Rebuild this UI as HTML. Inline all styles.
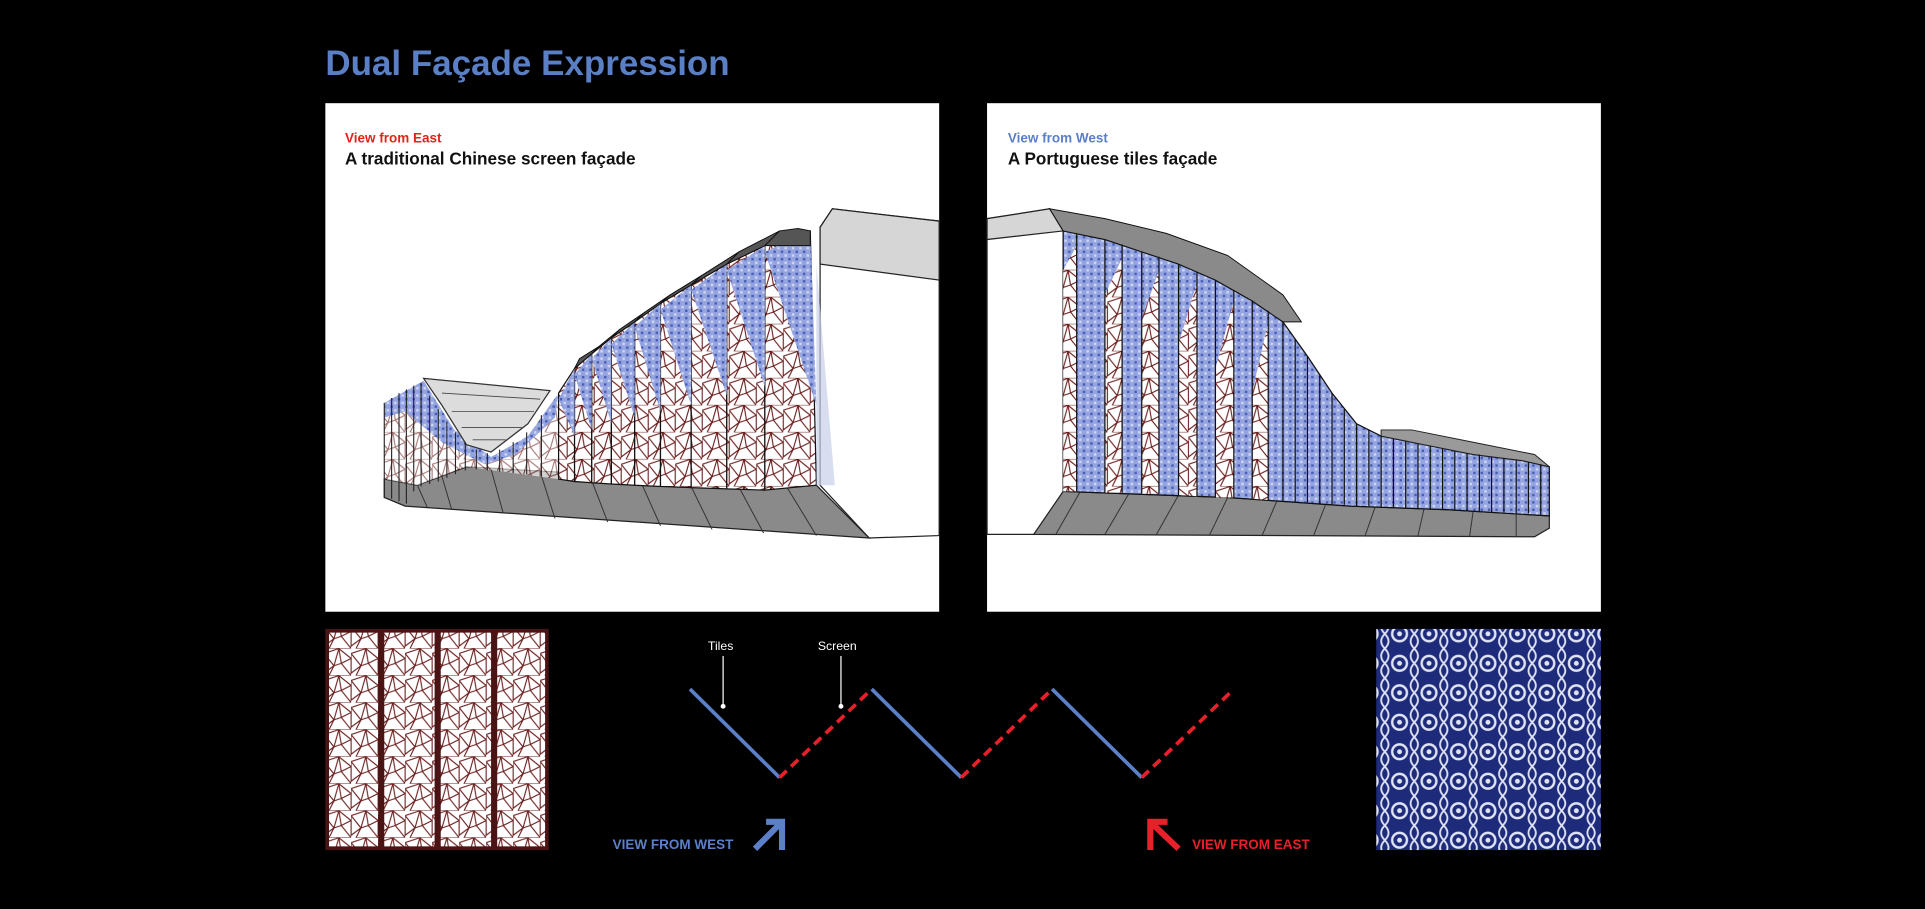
<!DOCTYPE html>
<html><head><meta charset="utf-8"><style>
html,body{margin:0;padding:0;background:#000;}
svg{display:block}
text{font-family:"Liberation Sans",sans-serif}
</style></head><body>
<svg width="1925" height="909" viewBox="0 0 1568 740" preserveAspectRatio="none" xmlns="http://www.w3.org/2000/svg">
<defs>
<pattern id="lat" width="22" height="22" patternUnits="userSpaceOnUse">
<rect width="22" height="22" fill="#fff"/>
<path d="M0 4L12 0L8 14ZM12 0L22 8L14 12ZM8 14L14 12L22 22L4 22ZM0 4L8 14L0 20ZM14 12L22 8L22 22" fill="none" stroke="#6b1f1f" stroke-width="0.9"/>
</pattern>
<pattern id="blu" width="6" height="6" patternUnits="userSpaceOnUse">
<rect width="6" height="6" fill="#94a4e0"/>
<rect x="0" y="0" width="2" height="2" fill="#4c5eb4"/><rect x="3" y="3" width="2" height="2" fill="#d0d7f2"/>
</pattern>
<pattern id="tile" width="24" height="24" patternUnits="userSpaceOnUse">
<rect width="24" height="24" fill="#1e2a7a"/>
<circle cx="12" cy="12" r="6" fill="none" stroke="#dfe4f5" stroke-width="2"/>
<circle cx="12" cy="12" r="2" fill="#dfe4f5"/>
<path d="M0 0Q6 6 0 12M24 0Q18 6 24 12M0 24Q6 18 0 12M24 24Q18 18 24 12" fill="none" stroke="#dfe4f5" stroke-width="1.5"/>
</pattern>
</defs>
<rect width="1568" height="740" fill="#000"/>
<text x="265" y="61" font-size="28.5" font-weight="bold" fill="#5b7fc4">Dual Façade Expression</text>

<!-- Left panel -->
<rect x="265" y="84" width="500" height="414" fill="#fff"/>
<text x="281" y="116" font-size="11" font-weight="bold" fill="#e2231a">View from East</text>
<text x="281" y="134" font-size="14" font-weight="bold" fill="#111">A traditional Chinese screen façade</text>
<polygon points="668,185 678,170 765,180 765,436 708,438 668,395" fill="#fff" stroke="#222" stroke-width="1"/>
<polygon points="668,185 678,170 765,180 765,228 668,215" fill="#d6d6d6" stroke="#222" stroke-width="1"/>
<polygon points="313,390 340,395 380,380 640,395 665,395 708,438 330,412 313,405" fill="#8a8a8a" stroke="#222" stroke-width="1"/>
<g stroke="#333" stroke-width="0.8">
<line x1="400" y1="382" x2="410" y2="418"/><line x1="440" y1="384" x2="452" y2="422"/><line x1="480" y1="386" x2="495" y2="425"/><line x1="520" y1="388" x2="538" y2="428"/><line x1="560" y1="390" x2="580" y2="431"/><line x1="600" y1="393" x2="622" y2="434"/><line x1="640" y1="395" x2="665" y2="436"/><line x1="340" y1="395" x2="348" y2="413"/><line x1="360" y1="388" x2="368" y2="415"/>
</g>
<polygon points="313,328 345,310 370,350 400,372 430,355 455,320 455,390 380,380 340,395 313,390" fill="url(#lat)" opacity="0.6"/>
<polygon points="313,328 345,310 370,350 400,372 430,355 455,320 452,340 420,370 395,378 360,360 330,335 313,340" fill="url(#blu)"/>
<polygon points="345,308 448,318 430,345 400,368 380,362 360,330" fill="#dcdcdc" stroke="#333" stroke-width="1"/>
<g stroke="#444" stroke-width="0.7">
<line x1="360" y1="320" x2="440" y2="325"/><line x1="368" y1="335" x2="435" y2="335"/><line x1="376" y1="348" x2="425" y2="348"/><line x1="385" y1="358" x2="412" y2="358"/>
</g>
<g stroke="#222" stroke-width="0.9">
<line x1="313" y1="328" x2="313" y2="405"/><line x1="319" y1="324" x2="319" y2="406"/><line x1="325" y1="320" x2="325" y2="408"/><line x1="331" y1="317" x2="331" y2="410"/><line x1="337" y1="314" x2="337" y2="400"/><line x1="343" y1="312" x2="343" y2="396"/><line x1="350" y1="322" x2="350" y2="394"/><line x1="357" y1="333" x2="357" y2="392"/><line x1="364" y1="343" x2="364" y2="389"/><line x1="371" y1="352" x2="371" y2="386"/><line x1="379" y1="360" x2="379" y2="383"/><line x1="388" y1="366" x2="388" y2="382"/><line x1="397" y1="369" x2="397" y2="383"/><line x1="407" y1="366" x2="407" y2="384"/><line x1="418" y1="360" x2="418" y2="385"/><line x1="429" y1="352" x2="429" y2="386"/><line x1="441" y1="338" x2="441" y2="388"/>
</g>
<g stroke="#111" stroke-width="1">
<polygon points="455,320 468,300 468,392 455,390" fill="url(#lat)"/>
<polygon points="468,300 482,288 482,393 468,392" fill="url(#lat)"/>
<polygon points="482,288 498,275 498,394 482,393" fill="url(#lat)"/>
<polygon points="498,275 517,262 517,395 498,394" fill="url(#lat)"/>
<polygon points="517,262 538,247 538,396 517,395" fill="url(#lat)"/>
<polygon points="538,247 563,232 563,397 538,396" fill="url(#lat)"/>
<polygon points="563,232 592,215 592,398 563,397" fill="url(#lat)"/>
<polygon points="592,215 623,200 623,399 592,398" fill="url(#lat)"/>
<polygon points="623,200 660,188 665,395 623,399" fill="url(#lat)"/>
</g>
<g>
<polygon points="455,325 468,300 468,355" fill="url(#blu)"/>
<polygon points="468,305 482,288 482,350" fill="url(#blu)"/>
<polygon points="482,292 498,275 498,345" fill="url(#blu)"/>
<polygon points="498,280 517,262 517,340" fill="url(#blu)"/>
<polygon points="517,266 538,247 538,335" fill="url(#blu)"/>
<polygon points="538,252 563,232 563,330" fill="url(#blu)"/>
<polygon points="563,236 592,215 592,322" fill="url(#blu)"/>
<polygon points="592,220 623,200 623,315" fill="url(#blu)"/>
<polygon points="623,205 660,188 665,330" fill="url(#blu)"/>
</g>
<g fill="#555" stroke="#111" stroke-width="0.8">
<polygon points="468,300 472,292 488,282 482,288"/>
<polygon points="482,288 488,282 505,268 498,275"/>
<polygon points="498,275 505,268 524,255 517,262"/>
<polygon points="517,262 524,255 546,240 538,247"/>
<polygon points="538,247 546,240 572,224 563,232"/>
<polygon points="563,232 572,224 602,205 592,215"/>
<polygon points="592,215 602,205 635,188 623,200"/>
<polygon points="623,200 635,188 650,186 660,188 660,200"/>
</g>
<polygon points="665,215 680,395 665,395" fill="#c8cfe8" opacity="0.7"/>

<!-- Right panel -->
<rect x="804" y="84" width="500" height="414" fill="#fff"/>
<text x="821" y="116" font-size="11" font-weight="bold" fill="#5b7fc4">View from West</text>
<text x="821" y="134" font-size="14" font-weight="bold" fill="#111">A Portuguese tiles façade</text>
<polygon points="804,178 855,170 866,188 866,435 804,435" fill="#fff" stroke="#222" stroke-width="1"/>
<polygon points="804,178 855,170 866,188 804,195" fill="#d6d6d6" stroke="#222" stroke-width="1"/>
<polygon points="866,400 1000,405 1100,412 1180,415 1262,420 1262,430 1250,437 842,435" fill="#8a8a8a" stroke="#222" stroke-width="1"/>
<g stroke="#333" stroke-width="0.8">
<line x1="880" y1="400" x2="860" y2="435"/><line x1="920" y1="401" x2="900" y2="435"/><line x1="960" y1="403" x2="942" y2="435"/><line x1="1000" y1="405" x2="985" y2="436"/><line x1="1040" y1="408" x2="1028" y2="436"/><line x1="1080" y1="410" x2="1070" y2="436"/><line x1="1120" y1="413" x2="1112" y2="436"/><line x1="1160" y1="414" x2="1155" y2="436"/><line x1="1200" y1="416" x2="1197" y2="437"/><line x1="1235" y1="418" x2="1235" y2="437"/>
</g>
<polygon points="866,188 900,195 930,205 960,215 990,228 1020,245 1045,262 1065,290 1085,320 1105,345 1125,355 1160,362 1200,370 1240,375 1262,380 1262,420 1180,415 1100,412 1000,405 866,400" fill="url(#blu)" stroke="#111" stroke-width="1"/>
<g fill="url(#lat)">
<polygon points="866,220 877,200 877,400 866,400"/>
<polygon points="900,240 914,210 914,401 900,401"/>
<polygon points="930,260 944,220 944,402 930,402"/>
<polygon points="960,280 975,230 975,404 960,403"/>
<polygon points="990,300 1005,245 1005,405 990,405"/>
<polygon points="1020,320 1033,262 1033,407 1020,406"/>
</g>
<polygon points="1125,355 1160,362 1200,370 1240,375 1262,380 1250,370 1200,360 1150,350 1125,350" fill="#9a9a9a" stroke="#222" stroke-width="0.8"/>
<polygon points="866,188 855,170 900,178 950,190 1000,208 1045,240 1060,262 1045,262 1020,245 990,228 960,215 930,205 900,195" fill="#8a8a8a" stroke="#111" stroke-width="0.8"/>
<g stroke="#111" stroke-width="1">
<line x1="877" y1="190" x2="877" y2="400"/><line x1="900" y1="195" x2="900" y2="401"/><line x1="914" y1="199" x2="914" y2="401"/><line x1="930" y1="205" x2="930" y2="402"/><line x1="944" y1="209" x2="944" y2="402"/><line x1="960" y1="215" x2="960" y2="403"/><line x1="975" y1="221" x2="975" y2="404"/><line x1="990" y1="228" x2="990" y2="405"/><line x1="1005" y1="236" x2="1005" y2="405"/><line x1="1020" y1="245" x2="1020" y2="406"/><line x1="1033" y1="253" x2="1033" y2="407"/><line x1="1045" y1="262" x2="1045" y2="408"/><line x1="1055" y1="276" x2="1055" y2="409"/><line x1="1065" y1="290" x2="1065" y2="409"/><line x1="1075" y1="305" x2="1075" y2="410"/><line x1="1085" y1="320" x2="1085" y2="411"/><line x1="1095" y1="333" x2="1095" y2="411"/><line x1="1105" y1="345" x2="1105" y2="412"/><line x1="1115" y1="350" x2="1115" y2="412"/><line x1="1125" y1="355" x2="1125" y2="413"/><line x1="1135" y1="357" x2="1135" y2="413"/><line x1="1145" y1="359" x2="1145" y2="414"/><line x1="1155" y1="361" x2="1155" y2="414"/><line x1="1165" y1="363" x2="1165" y2="415"/><line x1="1175" y1="365" x2="1175" y2="415"/><line x1="1185" y1="367" x2="1185" y2="415"/><line x1="1195" y1="369" x2="1195" y2="416"/><line x1="1205" y1="370" x2="1205" y2="416"/><line x1="1215" y1="372" x2="1215" y2="417"/><line x1="1225" y1="373" x2="1225" y2="417"/><line x1="1235" y1="374" x2="1235" y2="418"/><line x1="1245" y1="376" x2="1245" y2="418"/><line x1="1255" y1="378" x2="1255" y2="419"/>
</g>

<rect x="265" y="512" width="182" height="180" fill="#4a1414"/>
<rect x="268" y="515" width="40" height="174" fill="url(#lat)"/>
<rect x="313" y="515" width="41" height="174" fill="url(#lat)"/>
<rect x="359" y="515" width="41" height="174" fill="url(#lat)"/>
<rect x="405" y="515" width="39" height="174" fill="url(#lat)"/>
<rect x="1121" y="512" width="183" height="180" fill="url(#tile)"/>

<g stroke-width="3" fill="none">
<polyline points="562,561 635,633" stroke="#5b80c8"/>
<polyline points="710,561 783,633" stroke="#5b80c8"/>
<polyline points="857,561 930,633" stroke="#5b80c8"/>
<g stroke="#e8202a" stroke-dasharray="8,5">
<line x1="635" y1="633" x2="710" y2="561"/>
<line x1="783" y1="633" x2="857" y2="561"/>
<line x1="930" y1="633" x2="1005" y2="561"/>
</g>
</g>
<text x="587" y="529" font-size="10" fill="#fff" text-anchor="middle">Tiles</text>
<text x="682" y="529" font-size="10" fill="#fff" text-anchor="middle">Screen</text>
<line x1="589" y1="534" x2="589" y2="574" stroke="#fff" stroke-width="1"/>
<circle cx="589" cy="575" r="2" fill="#fff"/>
<line x1="685" y1="534" x2="685" y2="574" stroke="#fff" stroke-width="1"/>
<circle cx="685" cy="575" r="2" fill="#fff"/>

<text x="499" y="691" font-size="11" font-weight="bold" fill="#5b80c8">VIEW FROM WEST</text>
<g stroke="#5b80c8" stroke-width="5" fill="none">
<line x1="615" y1="691" x2="636" y2="670"/>
<polyline points="624,669 637,669 637,692"/>
</g>
<text x="971" y="691" font-size="11" font-weight="bold" fill="#e8202a">VIEW FROM EAST</text>
<g stroke="#e8202a" stroke-width="5" fill="none">
<line x1="960" y1="691" x2="938" y2="670"/>
<polyline points="937,692 937,669 951,669"/>
</g>
</svg>
</body></html>
